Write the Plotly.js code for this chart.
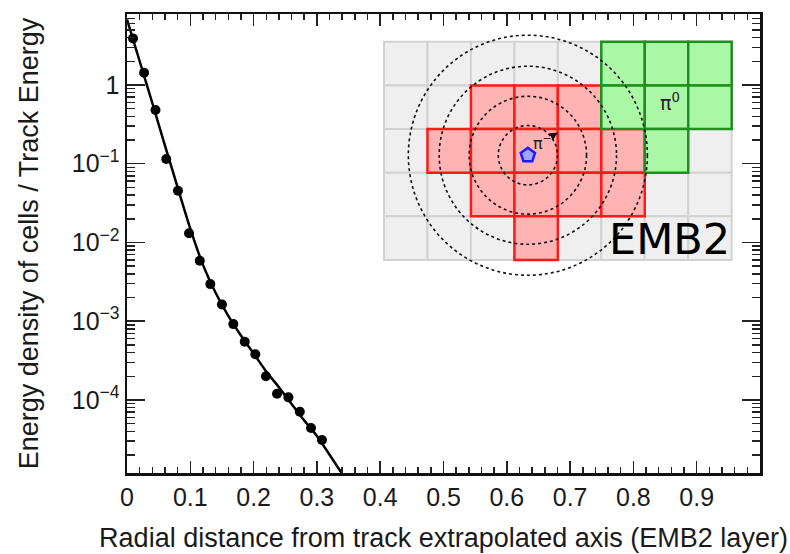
<!DOCTYPE html>
<html>
<head>
<meta charset="utf-8">
<script src="https://cdn.plot.ly/plotly-3.0.1.min.js"></script>
<style>
  html, body { margin: 0; padding: 0; background: #ffffff; }
  #chart { width: 790px; height: 554px; }
</style>
</head>
<body>
<div id="chart"></div>
<script>
// Measured energy density per radial bin (normalised to track energy)
const radius = [0.0095, 0.027, 0.045, 0.062, 0.0805, 0.098, 0.115, 0.1316, 0.150,
                0.168, 0.186, 0.2027, 0.2195, 0.237, 0.255, 0.273, 0.2907, 0.308];
const density = [3.9, 1.43, 0.48, 0.115, 0.0454, 0.0131, 0.00586, 0.00296, 0.00163,
                 9.2e-4, 5.5e-4, 3.8e-4, 2.0e-4, 1.2e-4, 1.08e-4, 7.1e-5, 4.4e-5, 3.1e-5];

// Fitted parametrisation drawn as a smooth curve
const fitRadius = [0, 0.02, 0.04, 0.06, 0.08, 0.10, 0.12, 0.14, 0.16, 0.18, 0.20,
                   0.22, 0.24, 0.26, 0.28, 0.30, 0.345];
const fitDensity = [6.8, 2.0, 0.59, 0.17, 0.050, 0.015, 0.0052, 0.0023, 0.00117,
                    6.6e-4, 3.9e-4, 2.3e-4, 1.45e-4, 8.9e-5, 5.5e-5, 3.5e-5, 1.0e-5];

// Axis ticks
const xTickVals = [0, 0.1, 0.2, 0.3, 0.4, 0.5, 0.6, 0.7, 0.8, 0.9];
const xTickText = ['0', '0.1', '0.2', '0.3', '0.4', '0.5', '0.6', '0.7', '0.8', '0.9'];
const yTickVals = [1e-4, 1e-3, 1e-2, 1e-1, 1];
const yTickText = ['10<sup>\u22124</sup>', '10<sup>\u22123</sup>', '10<sup>\u22122</sup>',
                   '10<sup>\u22121</sup>', '1'];

// EMB2 cell layout: 8 columns x 5 rows, [column, row] with row 0 at the top
const gridCols = 8;
const gridRows = 5;
const chargedCells = [[2,1],[3,1],[4,1],
                      [1,2],[2,2],[3,2],[4,2],[5,2],
                      [2,3],[3,3],[4,3],[5,3],
                      [3,4]];
const neutralCells = [[5,0],[6,0],[7,0],
                      [5,1],[6,1],[7,1],
                      [6,2]];
// Track impact point and cone radii (in cell units)
const trackPoint = [3.31, 2.6];
const ringRadii = [0.68, 1.35, 2.04, 2.75];

// Minor ticks for the log axis: 2..9 in each decade
const yMinor = [];
for (let e = -5; e <= 0; e++) {
  for (let m = 2; m <= 9; m++) yMinor.push(m * Math.pow(10, e));
}

const FONT = 'Liberation Sans, Arial, Helvetica, sans-serif';
const INK = '#1a1a1a';

function cellShape(c, fill, stroke, width) {
  return {
    type: 'rect', xref: 'x2', yref: 'y2', layer: 'below',
    x0: c[0], x1: c[0] + 1, y0: c[1], y1: c[1] + 1,
    fillcolor: fill, line: { color: stroke, width: width }
  };
}

const shapes = [];
for (let r = 0; r < gridRows; r++) {
  for (let c = 0; c < gridCols; c++) {
    shapes.push(cellShape([c, r], '#efefef', '#d2d2d2', 2));
  }
}
chargedCells.forEach(c => shapes.push(cellShape(c, '#ffb3b3', '#ff1a1a', 2.5)));
neutralCells.forEach(c => shapes.push(cellShape(c, '#aaf7a6', '#1f8f1f', 2.5)));
ringRadii.forEach(rad => shapes.push({
  type: 'circle', xref: 'x2', yref: 'y2', layer: 'below',
  x0: trackPoint[0] - rad, x1: trackPoint[0] + rad,
  y0: trackPoint[1] - rad, y1: trackPoint[1] + rad,
  fillcolor: 'rgba(0,0,0,0)',
  line: { color: '#111111', width: 1.6, dash: 'dot' }
}));

const traces = [
  {
    x: fitRadius, y: fitDensity, type: 'scatter', mode: 'lines',
    line: { color: '#000000', width: 2.5, shape: 'spline', smoothing: 0.6 },
    hoverinfo: 'skip', showlegend: false
  },
  {
    x: radius, y: density, type: 'scatter', mode: 'markers',
    marker: { color: '#000000', size: 10, symbol: 'circle' },
    showlegend: false
  },
  {
    x: [trackPoint[0]], y: [trackPoint[1]], xaxis: 'x2', yaxis: 'y2',
    type: 'scatter', mode: 'markers',
    marker: { symbol: 'pentagon', size: 15, color: '#9fa3ff',
              line: { color: '#1a1aff', width: 2.5 } },
    showlegend: false, hoverinfo: 'skip'
  }
];

const layout = {
  width: 790, height: 554,
  margin: { l: 127, r: 30, t: 14, b: 81 },
  paper_bgcolor: '#ffffff',
  plot_bgcolor: 'rgba(0,0,0,0)',
  font: { family: FONT, color: INK, size: 25 },
  xaxis: {
    range: [0, 1], domain: [0, 1],
    tickvals: xTickVals, ticktext: xTickText,
    ticks: 'inside', ticklen: 12, tickwidth: 1.5, tickcolor: '#222',
    minor: { dtick: 0.02, tick0: 0, ticks: 'inside', ticklen: 6, tickwidth: 1.5, tickcolor: '#222' },
    mirror: 'ticks', showline: true, linecolor: '#111', linewidth: 2.5,
    showgrid: false, zeroline: false,
    tickfont: { size: 25, family: FONT, color: INK },
    title: { text: 'Radial distance from track extrapolated axis (EMB2 layer)',
             font: { size: 27, family: FONT, color: INK }, standoff: 19 }
  },
  yaxis: {
    type: 'log', range: [-4.927, 0.901], domain: [0, 1],
    tickvals: yTickVals, ticktext: yTickText,
    ticks: 'inside', ticklen: 18, tickwidth: 1.5, tickcolor: '#222',
    minor: { tickvals: yMinor, ticks: 'inside', ticklen: 8, tickwidth: 1.5, tickcolor: '#222' },
    mirror: 'ticks', showline: true, linecolor: '#111', linewidth: 2.5,
    showgrid: false, zeroline: false,
    tickfont: { size: 25, family: FONT, color: INK },
    title: { text: 'Energy density of cells / Track Energy',
             font: { size: 27, family: FONT, color: INK }, standoff: 26 }
  },
  xaxis2: {
    domain: [0.3717, 0.9896], range: [-0.5, gridCols + 0.5],
    anchor: 'y2', visible: false, fixedrange: true
  },
  yaxis2: {
    domain: [0.4166, 0.9871], range: [gridRows + 0.5, -0.5],
    anchor: 'x2', visible: false, fixedrange: true
  },
  shapes: shapes,
  annotations: [
    {
      xref: 'x2', yref: 'y2', x: 4.0, y: 2.08, ax: 3.64, ay: 2.3,
      axref: 'x2', ayref: 'y2', showarrow: true, arrowhead: 2, arrowsize: 1,
      arrowwidth: 1.6, arrowcolor: '#111', standoff: 0,
      text: '\u03c0<sup>\u2212</sup>', font: { size: 16, family: 'DejaVu Sans', color: '#222' }
    },
    {
      xref: 'x2', yref: 'y2', x: 6.58, y: 1.38, showarrow: false,
      text: '\u03c0<sup>0</sup>', font: { size: 19, family: 'DejaVu Sans', color: '#222' }
    },
    {
      xref: 'x2', yref: 'y2', x: 6.56, y: 4.52, showarrow: false,
      text: 'EMB2', font: { size: 43, family: 'DejaVu Sans', color: '#000' }
    }
  ]
};

Plotly.newPlot('chart', traces, layout, { displayModeBar: false, staticPlot: true });
</script>
</body>
</html>
